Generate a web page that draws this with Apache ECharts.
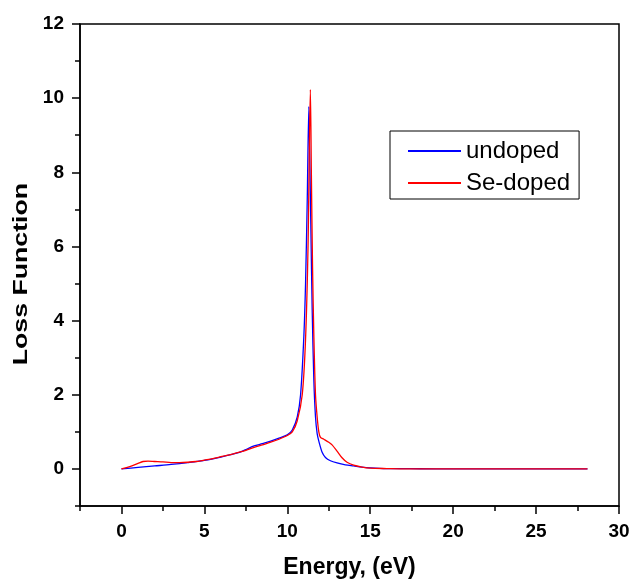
<!DOCTYPE html>
<html>
<head>
<meta charset="utf-8">
<script src="https://cdn.jsdelivr.net/npm/echarts@6/dist/echarts.min.js"></script>
<style>html,body{margin:0;padding:0;background:#fff;}#c{width:630px;height:584px;}</style>
</head>
<body>
<div id="c"></div>
<script>
const seriesNames = ['undoped', 'Se-doped'];
const undopedX = [0, 1, 2, 3, 4, 5, 6, 7, 7.5, 8, 8.5, 9, 9.5, 10, 10.3, 10.6, 10.8, 11.0, 11.1, 11.2, 11.3, 11.35, 11.42, 11.5, 11.6, 11.7, 11.8, 11.9, 12.1, 12.3, 12.6, 13, 13.5, 14, 14.5, 15, 16, 18, 20, 22, 24, 26, 28.1];
const undopedY = [0, 0.04, 0.08, 0.12, 0.17, 0.23, 0.32, 0.43, 0.52, 0.62, 0.68, 0.75, 0.83, 0.92, 1.05, 1.4, 2.0, 3.6, 5.0, 7.2, 9.77, 8.5, 6.5, 4.3, 2.4, 1.4, 0.95, 0.75, 0.45, 0.31, 0.22, 0.16, 0.11, 0.08, 0.05, 0.03, 0.01, 0.005, 0, 0, 0, 0, 0];
const sedopedX = [0, 0.5, 1.0, 1.3, 1.6, 2, 2.5, 3, 3.5, 4, 4.5, 5, 5.5, 6, 6.5, 7, 7.5, 8, 8.5, 9, 9.5, 10, 10.3, 10.6, 10.9, 11.1, 11.25, 11.39, 11.45, 11.52, 11.6, 11.7, 11.8, 11.9, 12.0, 12.2, 12.5, 12.7, 13.0, 13.3, 13.6, 14, 14.5, 15, 16, 18, 20, 22, 24, 26, 28.1];
const sedopedY = [0, 0.06, 0.15, 0.2, 0.21, 0.2, 0.19, 0.17, 0.17, 0.18, 0.2, 0.24, 0.28, 0.33, 0.38, 0.44, 0.5, 0.58, 0.65, 0.72, 0.8, 0.9, 1.0, 1.3, 2.0, 3.5, 6.0, 10.23, 8.0, 5.5, 3.6, 2.0, 1.4, 1.0, 0.85, 0.8, 0.72, 0.65, 0.48, 0.3, 0.18, 0.1, 0.05, 0.02, 0.01, 0, 0, 0, 0, 0, 0];
const xMajor = [0, 5, 10, 15, 20, 25, 30];
const xMinor = [-2.5, 2.5, 7.5, 12.5, 17.5, 22.5, 27.5];
const yMajor = [0, 2, 4, 6, 8, 10, 12];
const yMinor = [-1, 1, 3, 5, 7, 9, 11];
const xTitle = 'Energy, (eV)';
const yTitle = 'Loss Function';

const pair = (xs, ys) => xs.map((x, i) => [x, ys[i]]);
const font = 'Liberation Sans, Arial, sans-serif';
const axisLine = {show: true, onZero: false, lineStyle: {color: '#000', width: 1.5}};

const chart = echarts.init(document.getElementById('c'));
chart.setOption({
  animation: false,
  backgroundColor: '#fff',
  grid: {left: 80, right: 11, top: 24, bottom: 78, outerBoundsMode: 'none', containLabel: false,
         show: true, borderColor: '#000', borderWidth: 1.5},
  legend: {
    left: 390, top: 131, orient: 'vertical',
    data: seriesNames,
    icon: 'rect', itemWidth: 53, itemHeight: 2, itemGap: 8,
    borderColor: '#000', borderWidth: 1,
    padding: [8, 9, 4, 18],
    textStyle: {fontFamily: font, fontSize: 24, color: '#000'}
  },
  graphic: [{
    type: 'text', left: 11, top: 183, rotation: Math.PI / 2, scaleX: 1.27, scaleY: 1,
    style: {text: yTitle, font: 'bold 21px ' + font, fill: '#000'}
  }],
  xAxis: [
    {
      type: 'value', min: -2.5, max: 30, position: 'bottom',
      name: xTitle, nameLocation: 'middle', nameGap: 50,
      nameTextStyle: {fontFamily: font, fontSize: 23, fontWeight: 'bold', color: '#000'},
      axisLine: axisLine,
      axisTick: {show: true, customValues: xMajor, length: 8, lineStyle: {color: '#000', width: 1.5}},
      axisLabel: {show: true, customValues: xMajor, margin: 16, fontFamily: font, fontSize: 19, fontWeight: 'bold', color: '#000'},
      splitLine: {show: false}
    },
    {
      type: 'value', min: -2.5, max: 30, position: 'bottom',
      axisLine: {show: false, onZero: false},
      axisTick: {show: true, customValues: xMinor, length: 5, lineStyle: {color: '#000', width: 1.5}},
      axisLabel: {show: false},
      splitLine: {show: false}
    }
  ],
  yAxis: [
    {
      type: 'value', min: -1, max: 12, position: 'left',
      axisLine: axisLine,
      axisTick: {show: true, customValues: yMajor, length: 8, lineStyle: {color: '#000', width: 1.5}},
      axisLabel: {show: true, customValues: yMajor, margin: 16, fontFamily: font, fontSize: 19, fontWeight: 'bold', color: '#000'},
      splitLine: {show: false}
    },
    {
      type: 'value', min: -1, max: 12, position: 'left',
      axisLine: {show: false, onZero: false},
      axisTick: {show: true, customValues: yMinor, length: 5, lineStyle: {color: '#000', width: 1.5}},
      axisLabel: {show: false},
      splitLine: {show: false}
    }
  ],
  series: [
    {
      name: seriesNames[0], type: 'line', xAxisIndex: 0, yAxisIndex: 0,
      data: pair(undopedX, undopedY), smooth: 0.3, showSymbol: false, symbol: 'none',
      lineStyle: {color: '#0000ff', width: 1.3}, itemStyle: {color: '#0000ff'}
    },
    {
      name: seriesNames[1], type: 'line', xAxisIndex: 0, yAxisIndex: 0,
      data: pair(sedopedX, sedopedY), smooth: 0.3, showSymbol: false, symbol: 'none',
      lineStyle: {color: '#ff0000', width: 1.3}, itemStyle: {color: '#ff0000'}
    }
  ]
});
</script>
</body>
</html>
